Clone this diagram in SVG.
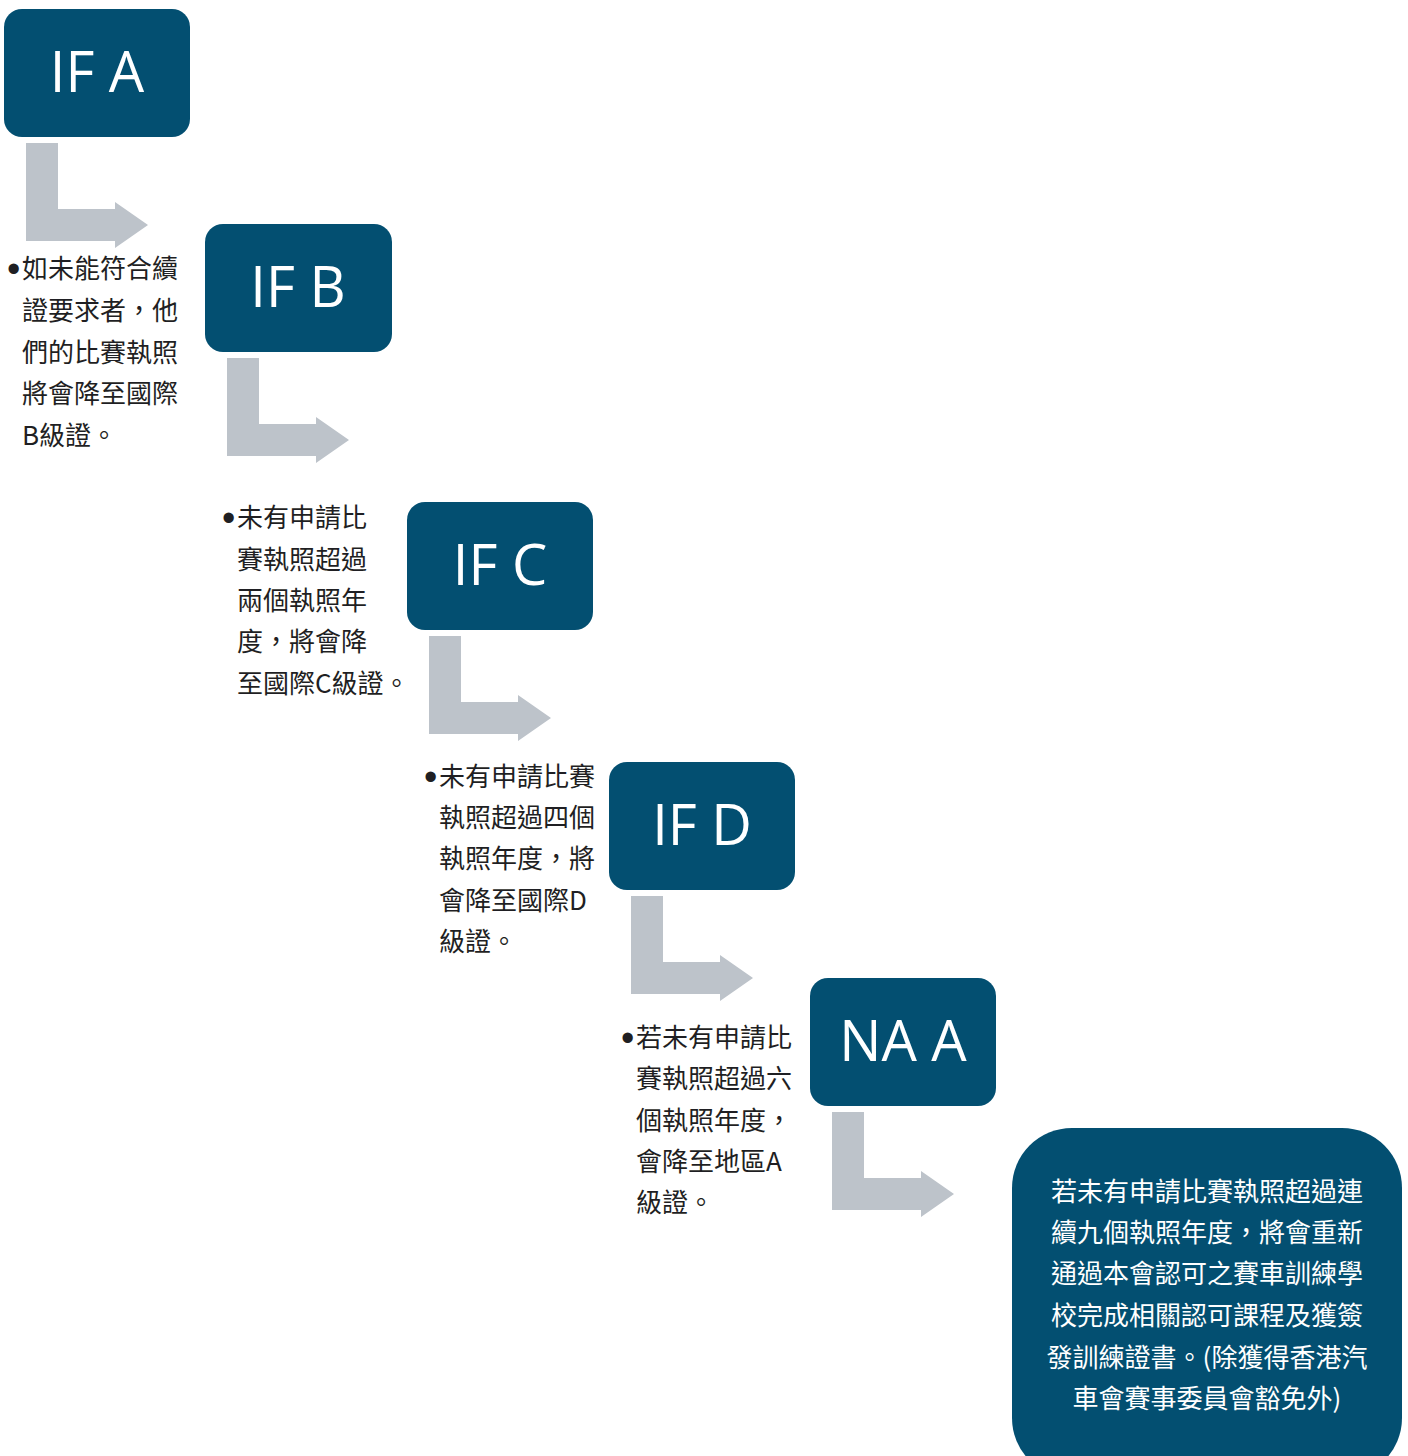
<svg xmlns="http://www.w3.org/2000/svg" width="1408" height="1456" viewBox="0 0 1408 1456" xml:lang="zh-TW">
<style>
.box{fill:#034f71}
.lbl{font-family:"Open Sans","Noto Sans",sans-serif;font-size:56px;fill:#ffffff;text-anchor:middle}
.arr{fill:#bdc3ca}
.t{font-family:"Noto Sans CJK TC","Noto Sans CJK SC",sans-serif;font-size:26px;fill:#1f1f23}
.b{font-family:"Liberation Sans","DejaVu Sans",sans-serif;font-size:38px;fill:#1f1f23}
.w{font-family:"Noto Sans CJK TC","Noto Sans CJK SC",sans-serif;font-size:26px;fill:#ffffff;text-anchor:middle}
</style>
<defs>
<path id="bend" d="M0 0H32V66H89V59L122 82L89 105V98H0Z"/>
</defs>
<rect width="1408" height="1456" fill="#ffffff"/>
<g id="connectors">
<use href="#bend" class="arr" x="26" y="143"/>
<use href="#bend" class="arr" x="227" y="358"/>
<use href="#bend" class="arr" x="429" y="636"/>
<use href="#bend" class="arr" x="631" y="896"/>
<use href="#bend" class="arr" x="832" y="1112"/>
</g>
<g id="node-ifa">
<rect class="box" x="4" y="9" width="186" height="128" rx="18"/>
<text class="lbl" x="97" y="92">IF A</text>
</g>
<g id="node-ifb">
<rect class="box" x="205" y="224" width="187" height="128" rx="18"/>
<text class="lbl" x="298" y="307">IF B</text>
</g>
<g id="node-ifc">
<rect class="box" x="407" y="502" width="186" height="128" rx="18"/>
<text class="lbl" x="500" y="585">IF C</text>
</g>
<g id="node-ifd">
<rect class="box" x="609" y="762" width="186" height="128" rx="18"/>
<text class="lbl" x="702" y="845">IF D</text>
</g>
<g id="node-naa">
<rect class="box" x="810" y="978" width="186" height="128" rx="18"/>
<text class="lbl" x="903" y="1061">NA A</text>
</g>
<g id="note-1">
<text class="b" x="7" y="282">•</text>
<text class="t"><tspan x="22" y="278">如未能符合續</tspan><tspan x="22" y="320">證要求者，他</tspan><tspan x="22" y="362">們的比賽執照</tspan><tspan x="22" y="403">將會降至國際</tspan><tspan x="22" y="445">B級證。</tspan></text>
</g>
<g id="note-2">
<text class="b" x="222" y="531">•</text>
<text class="t"><tspan x="237" y="527">未有申請比</tspan><tspan x="237" y="569">賽執照超過</tspan><tspan x="237" y="610">兩個執照年</tspan><tspan x="237" y="651">度，將會降</tspan><tspan x="237" y="693">至國際C級證。</tspan></text>
</g>
<g id="note-3">
<text class="b" x="424" y="790">•</text>
<text class="t"><tspan x="439" y="786">未有申請比賽</tspan><tspan x="439" y="827">執照超過四個</tspan><tspan x="439" y="868">執照年度，將</tspan><tspan x="439" y="910">會降至國際D</tspan><tspan x="439" y="951">級證。</tspan></text>
</g>
<g id="note-4">
<text class="b" x="621" y="1051">•</text>
<text class="t"><tspan x="636" y="1047">若未有申請比</tspan><tspan x="636" y="1088">賽執照超過六</tspan><tspan x="636" y="1130">個執照年度，</tspan><tspan x="636" y="1171">會降至地區A</tspan><tspan x="636" y="1212">級證。</tspan></text>
</g>
<g id="node-final">
<rect class="box" x="1012" y="1128" width="390" height="350" rx="60"/>
<text class="w"><tspan x="1207" y="1201">若未有申請比賽執照超過連</tspan><tspan x="1207" y="1242">續九個執照年度，將會重新</tspan><tspan x="1207" y="1283">通過本會認可之賽車訓練學</tspan><tspan x="1207" y="1325">校完成相關認可課程及獲簽</tspan><tspan x="1207" y="1367">發訓練證書。(除獲得香港汽</tspan><tspan x="1207" y="1408">車會賽事委員會豁免外)</tspan></text>
</g>
</svg>
